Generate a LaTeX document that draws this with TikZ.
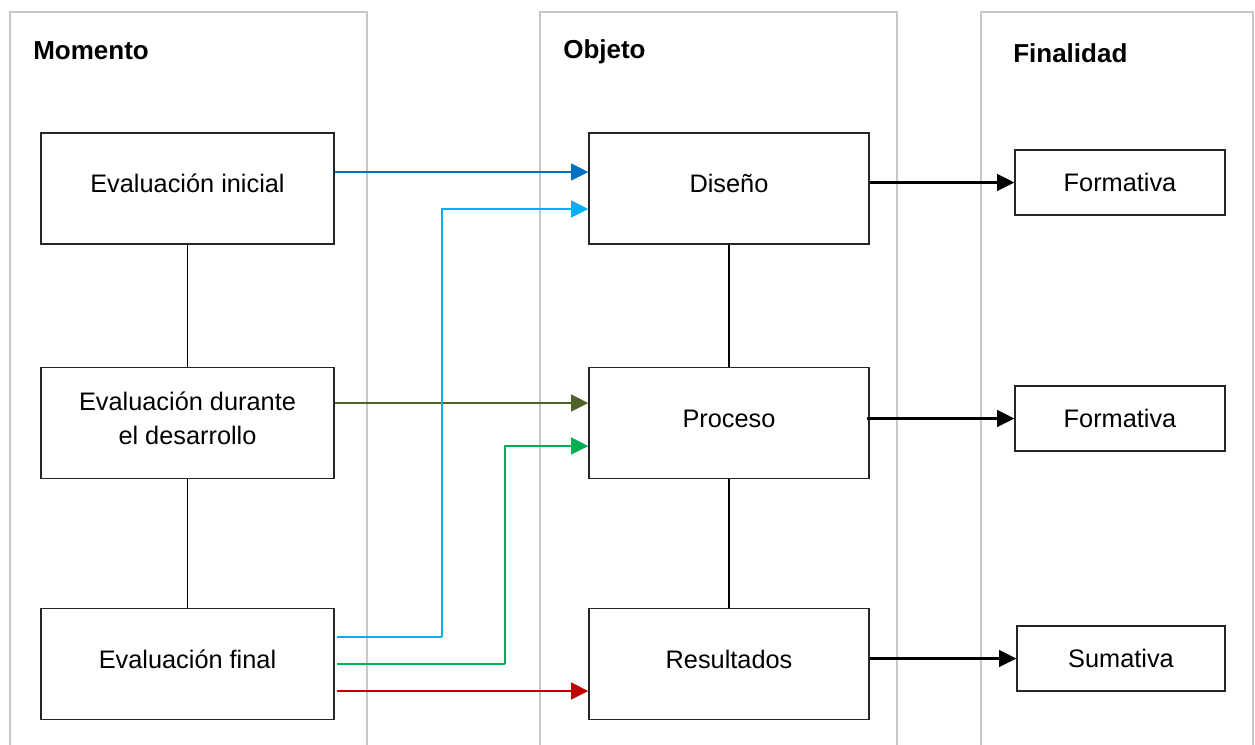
\documentclass[tikz,border=0pt]{standalone}
\usepackage{fontspec}
\setmainfont{Liberation Sans}
\usetikzlibrary{arrows.meta,calc}
\definecolor{panelgray}{HTML}{C8C8C8}
\definecolor{darkblue}{HTML}{0070C0}
\definecolor{lightblue}{HTML}{00B0F0}
\definecolor{olive}{HTML}{4F6228}
\definecolor{flowgreen}{HTML}{00B050}
\definecolor{flowred}{HTML}{C00000}
\begin{document}
\begin{tikzpicture}[
  x=0.75pt, y=-0.75pt,
  panel/.style={draw=panelgray, line width=0.9pt},
  header/.style={anchor=base west, inner sep=0pt, font=\fontsize{19.5}{23}\selectfont\bfseries},
  stagebox/.style={draw=black!85, line width=1pt, fill=white, minimum width=219.75pt, minimum height=83.25pt,
                   align=center, font=\fontsize{19}{25}\selectfont, inner sep=0pt},
  oneline/.style={text height=14pt, text depth=7.5pt},
  objbox/.style={stagebox, oneline, minimum width=210pt},
  aimbox/.style={stagebox, text height=14pt, text depth=0pt, minimum width=157.5pt, minimum height=48.75pt},
  link/.style={draw=black, line width=1pt},
  flow/.style={line width=1.8pt, -{Triangle[length=13pt,width=12.5pt]}},
  feed/.style={line width=1.8pt}
]
\useasboundingbox (0,0) rectangle (1255,744);

% column panels, open at the bottom
\draw[panel] (10,750) -- (10,12) -- (367,12) -- (367,750);
\draw[panel] (540,750) -- (540,12) -- (897,12) -- (897,750);
\draw[panel] (981,750) -- (981,12) -- (1253,12) -- (1253,750);

% column headings
\node[header] (hmom) at (33,59) {Momento};
\node[header] (hobj) at (563,58) {Objeto};
\node[header] (hfin) at (1013,62) {Finalidad};

% moments
\node[stagebox, oneline] (ini) at (187.5,188.5) {Evaluación inicial};
\node[stagebox, text depth=7.5pt] (dur) at (187.5,423) {Evaluación durante\\el desarrollo};
\node[stagebox, oneline] (fin) at (187.5,664) {Evaluación final};

% objects
\node[objbox] (dis) at (729,188.5) {Diseño};
\node[objbox] (pro) at (729,423) {Proceso};
\node[objbox] (res) at (729,664) {Resultados};

% purposes
\node[aimbox] (for1) at (1120,182.5) {Formativa};
\node[aimbox] (for2) at (1120,418.5) {Formativa};
\node[aimbox, minimum width=156pt] (sum) at (1121,658.5) {Sumativa};

% vertical links
\draw[link] (ini.south) -- (dur.north);
\draw[link] (dur.south) -- (fin.north);
\draw[link] (dis.south) -- (pro.north);
\draw[link] (pro.south) -- (res.north);

% moment to object
\draw[flow, darkblue] ($(ini.east)+(0,-16.5)$) -- ($(dis.west)+(0,-16.5)$);
\draw[flow, olive] ($(dur.east)+(0,-20)$) -- ($(pro.west)+(0,-20)$);
\draw[flow, flowred] ($(fin.east)+(2,27)$) -- ($(res.west)+(0,27)$);
\coordinate (lbturn) at (442,637);
\coordinate (grturn) at (505,664);
\draw[feed, lightblue] ($(fin.east)+(2,-27)$) -- (lbturn);
\draw[flow, lightblue] (lbturn) |- ($(dis.west)+(0,20.5)$);
\draw[feed, flowgreen] ($(fin.east)+(2,0)$) -- (grturn);
\draw[flow, flowgreen] (grturn) |- ($(pro.west)+(0,23)$);

% object to purpose
\draw[flow, black] (dis.east |- for1.west) -- (for1.west);
\draw[flow, black] ($(pro.east |- for2.west)+(-3,0)$) -- (for2.west);
\draw[flow, black] (res.east |- sum.west) -- (sum.west);
\end{tikzpicture}
\end{document}
